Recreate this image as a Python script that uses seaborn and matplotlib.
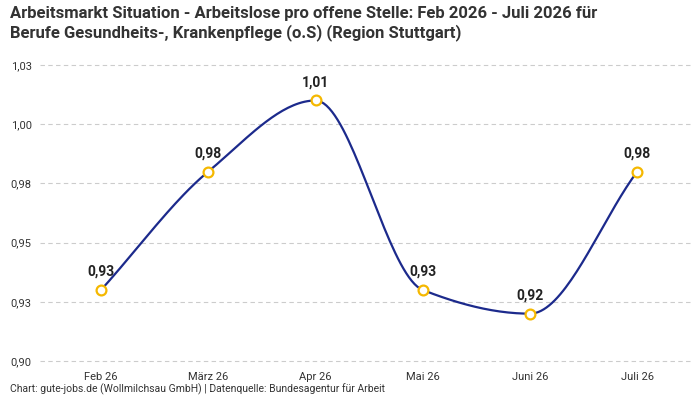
import numpy as np
import matplotlib
matplotlib.use("Agg")
import matplotlib.pyplot as plt
import seaborn as sns
import pandas as pd

months = ["Feb 26", "März 26", "Apr 26", "Mai 26", "Juni 26", "Juli 26"]
values = [0.930, 0.980, 1.010, 0.930, 0.920, 0.980]
labels = ["0,93", "0,98", "1,01", "0,93", "0,92", "0,98"]
yticks = [0.90, 0.925, 0.95, 0.975, 1.00, 1.025]
ytick_labels = ["0,90", "0,93", "0,95", "0,98", "1,00", "1,03"]

sns.set_theme(style="white")
plt.rcParams['font.family'] = ['Roboto', 'DejaVu Sans']

def pchip(x, y, n=40):
    x = np.asarray(x, float); y = np.asarray(y, float)
    h = np.diff(x); d = np.diff(y) / h
    m = np.zeros_like(y)
    for i in range(1, len(y) - 1):
        if d[i-1] * d[i] > 0:
            m[i] = 2 / (1/d[i-1] + 1/d[i])
    m[0] = d[0]; m[-1] = d[-1]
    xs, ys = [], []
    for i in range(len(h)):
        t = np.linspace(0, 1, n)
        h00 = 2*t**3 - 3*t**2 + 1; h10 = t**3 - 2*t**2 + t
        h01 = -2*t**3 + 3*t**2; h11 = t**3 - t**2
        xs.append(x[i] + t*h[i])
        ys.append(h00*y[i] + h10*h[i]*m[i] + h01*y[i+1] + h11*h[i]*m[i+1])
    return np.concatenate(xs), np.concatenate(ys)

fig = plt.figure(figsize=(7, 4), dpi=100)
ax = fig.add_axes([0.057, 0.0915, 0.93, 0.752])
xi = np.arange(len(months))
sx, sy = pchip(xi, values)
sns.lineplot(x=sx, y=sy, ax=ax, color="#1c2a8c", linewidth=1.6, sort=False)
df = pd.DataFrame({"x": xi, "y": values})
sns.scatterplot(data=df, x="x", y="y", ax=ax, s=50, facecolor="white",
                edgecolor="#f5b800", linewidth=1.6, zorder=5)
for x, y, l in zip(xi, values, labels):
    ax.annotate(l, (x, y), xytext=(0, 8), textcoords="offset points",
                ha="center", va="bottom", fontsize=10, fontweight="bold", color="#222222")

ax.set_xlim(-0.57, 5.5)
ax.set_ylim(0.899, 1.026)
ax.set_xticks(xi)
ax.set_xticklabels(months, fontsize=8, color="#333333")
ax.set_yticks(yticks)
ax.set_yticklabels(ytick_labels, fontsize=8, color="#333333")
ax.set_xlabel(""); ax.set_ylabel("")
ax.yaxis.grid(True, linestyle=(0, (4, 3)), color="#cccccc", linewidth=0.8)
for s in ax.spines.values():
    s.set_visible(False)
ax.tick_params(length=0, pad=6)

fig.text(0.014, 0.985, "Arbeitsmarkt Situation - Arbeitslose pro offene Stelle: Feb 2026 - Juli 2026 für\nBerufe Gesundheits-, Krankenpflege (o.S) (Region Stuttgart)",
         ha="left", va="top", fontsize=12, fontweight="bold", color="#333333", linespacing=1.25)
fig.text(0.014, 0.012, "Chart: gute-jobs.de (Wollmilchsau GmbH) | Datenquelle: Bundesagentur für Arbeit",
         ha="left", va="bottom", fontsize=7.5, color="#333333")
fig.savefig("out.png", dpi=100)
